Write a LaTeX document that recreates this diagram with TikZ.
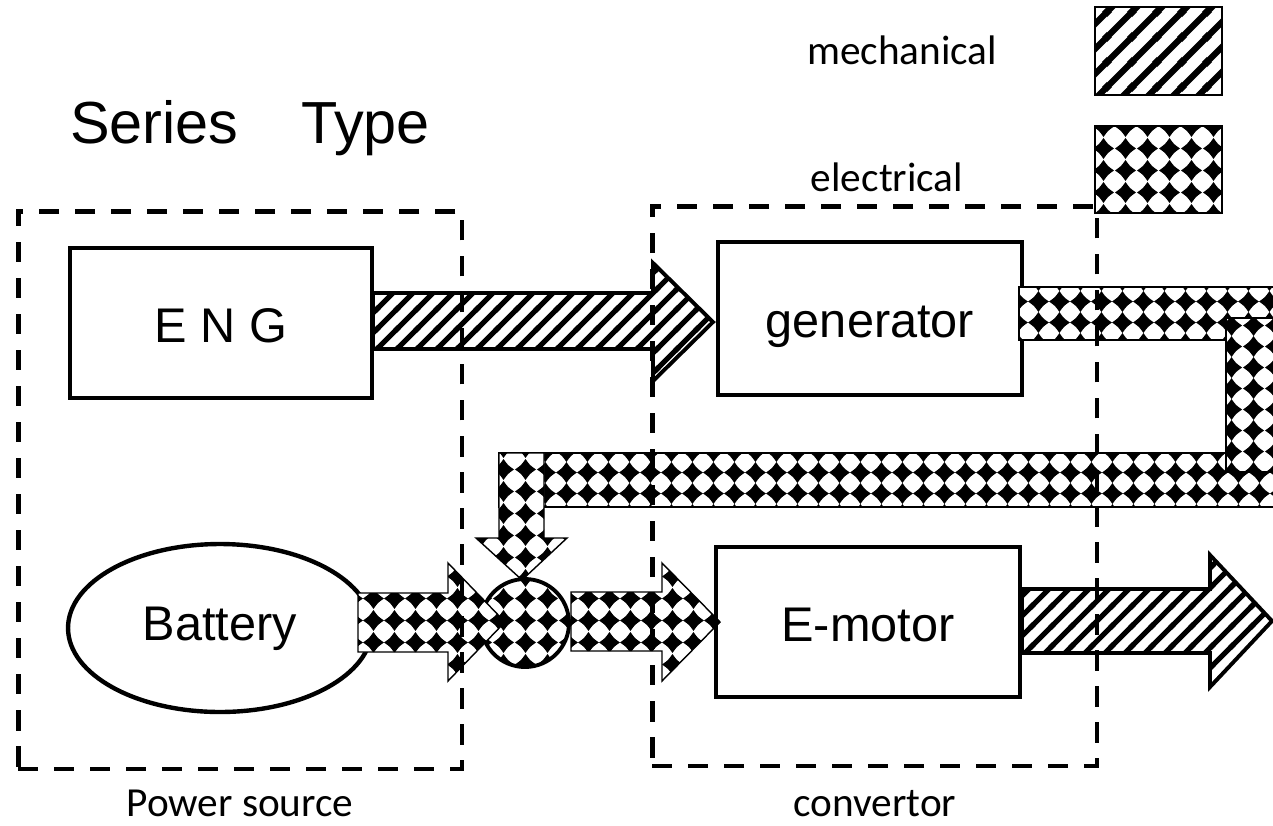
\documentclass[tikz,border=0pt]{standalone}
\usepackage{fontspec}
\setmainfont{Liberation Sans}
\newfontfamily\calib{Carlito}
\usetikzlibrary{patterns,shapes.geometric}

% diagonal stripes "/"
\pgfdeclarepatternformonly{mhatch}{\pgfqpoint{0pt}{0pt}}{\pgfqpoint{11.3pt}{11.3pt}}{\pgfqpoint{11.3pt}{11.3pt}}{%
  \pgfsetlinewidth{3.0pt}%
  \pgfpathmoveto{\pgfqpoint{-3pt}{-3pt}}\pgfpathlineto{\pgfqpoint{14.3pt}{14.3pt}}%
  \pgfpathmoveto{\pgfqpoint{-3pt}{8.3pt}}\pgfpathlineto{\pgfqpoint{3pt}{14.3pt}}%
  \pgfpathmoveto{\pgfqpoint{8.3pt}{-3pt}}\pgfpathlineto{\pgfqpoint{14.3pt}{3pt}}%
  \pgfusepath{stroke}}
\pgfdeclarepatternformonly{mhatchL}{\pgfqpoint{0pt}{0pt}}{\pgfqpoint{14pt}{14pt}}{\pgfqpoint{14pt}{14pt}}{%
  \pgfsetlinewidth{3.6pt}%
  \pgfpathmoveto{\pgfqpoint{-3pt}{-3pt}}\pgfpathlineto{\pgfqpoint{17pt}{17pt}}%
  \pgfpathmoveto{\pgfqpoint{-3pt}{11pt}}\pgfpathlineto{\pgfqpoint{3pt}{17pt}}%
  \pgfpathmoveto{\pgfqpoint{11pt}{-3pt}}\pgfpathlineto{\pgfqpoint{17pt}{3pt}}%
  \pgfusepath{stroke}}
% black diamonds (slightly concave sides) on a square grid
\pgfdeclarepatternformonly{mcheck}{\pgfqpoint{0pt}{0pt}}{\pgfqpoint{12.2pt}{12.2pt}}{\pgfqpoint{12.2pt}{12.2pt}}{%
  \pgfpathmoveto{\pgfqpoint{6.1pt}{0pt}}%
  \pgfpathcurveto{\pgfqpoint{8.6pt}{3.6pt}}{\pgfqpoint{8.6pt}{3.6pt}}{\pgfqpoint{12.2pt}{6.1pt}}%
  \pgfpathcurveto{\pgfqpoint{8.6pt}{8.6pt}}{\pgfqpoint{8.6pt}{8.6pt}}{\pgfqpoint{6.1pt}{12.2pt}}%
  \pgfpathcurveto{\pgfqpoint{3.6pt}{8.6pt}}{\pgfqpoint{3.6pt}{8.6pt}}{\pgfqpoint{0pt}{6.1pt}}%
  \pgfpathcurveto{\pgfqpoint{3.6pt}{3.6pt}}{\pgfqpoint{3.6pt}{3.6pt}}{\pgfqpoint{6.1pt}{0pt}}%
  \pgfpathclose\pgfusepath{fill}}

\begin{document}
\begin{tikzpicture}[x=0.02cm,y=-0.02cm,
  every node/.style={inner sep=0pt, outer sep=0pt},
  blockbox/.style={draw, line width=2.5pt, text height=0.76cm, text depth=0pt,
     font=\fontsize{27.7}{33}\selectfont},
  dashbox/.style={draw, line width=2.8pt, dash pattern=on 11.5pt off 9pt},
  mecharrow/.style={preaction={fill=white}, pattern=mhatch, draw, line width=2.2pt, line join=miter},
  elecflow/.style={preaction={fill=white}, pattern=mcheck, draw, line width=0.8pt, line join=miter},
  lbl/.style={font=\calib\fontsize{23.5}{28}\selectfont, anchor=base}]
\clip (0,0) rectangle (1273,825);
\fill[white] (0,0) rectangle (1273,825);

% title
\node[anchor=base west, font=\fontsize{33.8}{40}\selectfont] (title) at (70,143) {Series\hspace{1.06em}Type};

% legend
\node[lbl] (mechtxt) at (902,64) {mechanical};
\node[lbl] (electxt) at (887,191) {electrical};
\node[draw, line width=1.5pt, preaction={fill=white}, pattern=mhatchL, minimum width=2.54cm, minimum height=1.76cm] (mechkey) at (1158.5,51) {};
\node[draw, line width=1.5pt, preaction={fill=white}, pattern=mcheck, minimum width=2.54cm, minimum height=1.74cm] (eleckey) at (1158.5,169.5) {};

% component nodes
\node[blockbox, minimum width=6.04cm, minimum height=3.0cm] (eng) at (221,323) {E N G};
\node[blockbox, minimum width=6.08cm, minimum height=3.06cm] (gen) at (870,318.5) {generator};
\node[blockbox, minimum width=6.08cm, minimum height=3.0cm] (mot) at (868,622) {E-motor};
\node[draw, ellipse, line width=2.5pt, minimum width=6.08cm, minimum height=3.36cm,
      text height=0.48cm, text depth=0pt, font=\fontsize{27.7}{33}\selectfont] (bat) at (220,628) {Battery};

% electrical loop from generator back to the junction
\path[elecflow] (1019,287) rectangle (1290,340);
\path[elecflow] (499,453) rectangle (1290,507);
\path[elecflow] (1226,318) rectangle (1290,472);
\path[elecflow] (499,453) -- (544,453) -- (544,538) -- (567,538) -- (522,580)
   -- (476,538) -- (499,538) -- cycle;

% junction
\node[draw, circle, line width=2.2pt, preaction={fill=white}, pattern=mcheck, minimum size=1.76cm] (junc) at (525,623) {};

% battery -> junction
\path[elecflow] (358,593) -- (448,593) -- (448,563) -- (505,622) -- (448,681)
   -- (448,652) -- (358,652) -- cycle;
% junction -> E-motor
\path[elecflow] (571,592) -- (662,592) -- (662,563) -- (720,622) -- (662,681)
   -- (662,651) -- (571,651) -- cycle;

% mechanical arrows
\path[mecharrow] (373,293) -- (653,293) -- (653,263) -- (713,322) -- (653,381)
   -- (653,349) -- (373,349) -- cycle;
\path[mecharrow] (1022,589) -- (1210,589) -- (1210,555) -- (1272,621) -- (1210,687)
   -- (1210,653) -- (1022,653) -- cycle;

% dashed groups
\node[dashbox, minimum width=8.88cm, minimum height=11.16cm] (src) at (240,490) {};
\node[dashbox, minimum width=8.9cm, minimum height=11.2cm] (conv) at (874.5,486) {};
\node[lbl] (srclbl) at (240,816) {Power source};
\node[lbl] (convlbl) at (875,816) {convertor};
\end{tikzpicture}
\end{document}
